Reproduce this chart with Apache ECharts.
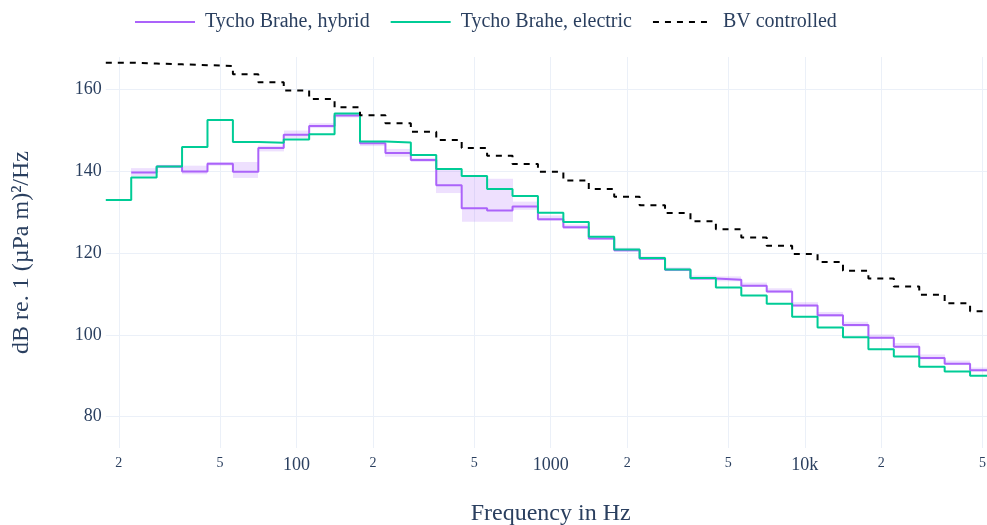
<!DOCTYPE html>
<html><head><meta charset="utf-8">
<script src="https://cdn.jsdelivr.net/npm/echarts@6/dist/echarts.min.js"></script>
<style>html,body{margin:0;padding:0;background:#fff}#c{width:987px;height:525px}</style>
</head><body><div id="c"></div>
<script>
// One-third-octave band centre frequencies (Hz)
const bandCenters = [20,25,31.5,40,50,63,80,100,125,160,200,250,315,400,500,630,800,1000,1250,1600,2000,2500,3150,4000,5000,6300,8000,10000,12500,16000,20000,25000,31500,40000,50000];

// Tycho Brahe, hybrid (dB)
const hybrid = [null,139.7,141.2,140.0,141.9,139.9,145.7,149.0,151.1,153.7,146.9,144.5,142.8,136.6,131.0,130.4,131.4,128.3,126.3,123.6,120.7,118.6,115.9,113.8,113.5,112.0,110.6,107.2,104.8,102.4,99.3,97.1,94.3,92.9,91.3];
const hybridMin = [null,138.8,140.8,139.3,141.4,138.4,144.9,148.2,150.6,153.2,146.2,143.6,142.3,134.7,127.7,127.7,130.6,127.9,125.9,123.2,120.3,118.3,115.6,113.5,113.1,111.7,110.2,106.9,104.4,102.0,99.0,96.7,94.0,92.6,91.0];
const hybridMax = [null,140.8,141.6,141.4,142.3,142.3,146.3,150.0,151.8,154.2,147.4,145.5,143.3,140.4,138.6,138.2,132.6,129.2,127.0,124.2,121.3,119.2,116.5,114.5,114.3,112.8,111.4,108.0,105.6,103.2,100.1,98.0,95.2,93.7,92.0];

// Tycho Brahe, electric (dB)
const electric = [133.0,138.5,141.2,146.0,152.6,147.2,147.0,147.8,149.1,154.2,147.3,147.1,144.0,140.6,138.9,135.7,134.0,129.9,127.6,124.0,120.9,118.8,116.0,113.9,111.6,109.6,107.6,104.4,101.8,99.4,96.5,94.7,92.2,91.0,90.0];

// BV controlled (dB)
const bvControlled = [166.6,166.4,166.2,166.0,165.8,163.8,161.8,159.8,157.75,155.7,153.75,151.8,149.7,147.7,145.75,143.8,141.8,139.9,137.8,135.7,133.8,131.7,129.8,127.8,125.85,123.8,121.8,119.8,117.8,115.7,113.8,111.8,109.8,107.7,105.8];

const xTickValues = [20,50,100,200,500,1000,2000,5000,10000,20000,50000];
const yTickValues = [80,100,120,140,160];

// band edges from the standard base-10 third-octave definition
const bandNo = bandCenters.map(f => Math.round(10 * Math.log10(f)));
const lowerEdge = bandNo.map(n => Math.pow(10, (n - 0.5) / 10));
const upperEdge = bandNo.map(n => Math.pow(10, (n + 0.5) / 10));

function stepData(vals) {
  const out = [];
  let last = null;
  vals.forEach((v, i) => { if (v != null) { out.push([lowerEdge[i], v]); last = i; } });
  out.push([upperEdge[last], vals[last]]);
  return out;
}
const bandData = [];
hybridMin.forEach((v, i) => { if (v != null) bandData.push([lowerEdge[i], upperEdge[i], v, hybridMax[i]]); });

const FONT = "'Liberation Serif','Times New Roman',serif";
const TXT = '#2a3f5f';
const GRID = '#ebf0f8';

const chart = echarts.init(document.getElementById('c'), null, {renderer: 'canvas'});
chart.setOption({
  animation: false,
  backgroundColor: '#fff',
  textStyle: {fontFamily: FONT, color: TXT},
  grid: {left: 105.8, right: -8.5, top: 57, bottom: 77, containLabel: false, outerBoundsMode: 'none'},
  legend: {
    data: ['Tycho Brahe, hybrid', 'Tycho Brahe, electric', 'BV controlled'],
    left: 129, top: 7, itemWidth: 60, itemHeight: 14, itemGap: 20,
    itemStyle: {opacity: 0},
    textStyle: {fontFamily: FONT, fontSize: 20, color: TXT, padding: [0, 0, 0, 5]}
  },
  xAxis: {
    type: 'log', logBase: 10,
    min: lowerEdge[0], max: upperEdge[upperEdge.length - 1],
    name: 'Frequency in Hz', nameLocation: 'middle', nameGap: 54,
    nameTextStyle: {fontFamily: FONT, fontSize: 24, color: TXT},
    axisLine: {show: false},
    axisTick: {show: false, customValues: xTickValues},
    axisLabel: {
      customValues: xTickValues, margin: 8, color: TXT, fontFamily: FONT, fontSize: 18,
      formatter: function (v) {
        const r = Math.round(v);
        const lg = Math.log10(r);
        if (Math.abs(lg - Math.round(lg)) < 1e-6) {
          return '{b|' + (r >= 10000 ? (r / 1000) + 'k' : String(r)) + '}';
        }
        return '{s|' + String(Math.round(r / Math.pow(10, Math.floor(lg)))) + '}';
      },
      rich: {
        b: {fontFamily: FONT, fontSize: 18, color: TXT},
        s: {fontFamily: FONT, fontSize: 14, color: TXT}
      }
    },
    splitLine: {show: true, lineStyle: {color: GRID, width: 1}}
  },
  yAxis: {
    type: 'value', min: 72.3, max: 168,
    name: 'dB re. 1 (µPa m)²/Hz', nameLocation: 'middle', nameGap: 72, nameRotate: 90,
    nameTextStyle: {fontFamily: FONT, fontSize: 24, color: TXT},
    axisLine: {show: false},
    axisTick: {show: false, customValues: yTickValues},
    axisLabel: {customValues: yTickValues, margin: 4, color: TXT, fontFamily: FONT, fontSize: 18},
    splitLine: {show: true, lineStyle: {color: GRID, width: 1}}
  },
  series: [
    {
      name: 'hybrid-range', type: 'custom', data: bandData, clip: true, silent: true, z: 1,
      encode: {x: [0, 1], y: [2, 3]},
      renderItem: function (params, api) {
        const a = api.coord([api.value(0), api.value(3)]);
        const b = api.coord([api.value(1), api.value(2)]);
        const x0 = Math.round(a[0]), x1 = Math.round(b[0]);
        return {
          type: 'rect',
          shape: {x: x0, y: a[1], width: x1 - x0, height: b[1] - a[1]},
          style: {fill: 'rgba(171,99,250,0.2)'}
        };
      }
    },
    {
      name: 'Tycho Brahe, hybrid', type: 'line', step: 'end', data: stepData(hybrid),
      showSymbol: false, symbol: 'none', color: '#ab63fa', lineStyle: {width: 2, color: '#ab63fa'}, z: 2
    },
    {
      name: 'Tycho Brahe, electric', type: 'line', step: 'end', data: stepData(electric),
      showSymbol: false, symbol: 'none', color: '#00cc96', lineStyle: {width: 2, color: '#00cc96'}, z: 3
    },
    {
      name: 'BV controlled', type: 'line', step: 'end', data: stepData(bvControlled),
      showSymbol: false, symbol: 'none', color: '#000', lineStyle: {width: 2, color: '#000', type: [6, 6]}, z: 4
    }
  ]
});
</script>
</body></html>
